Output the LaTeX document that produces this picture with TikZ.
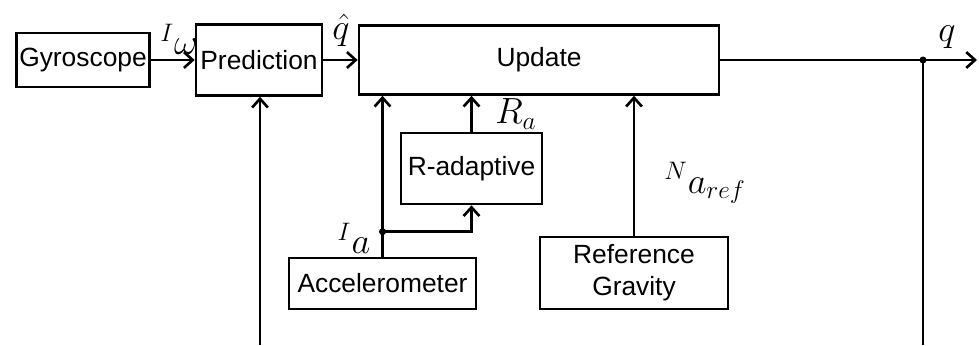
\documentclass[tikz,border=0pt]{standalone}
\usepackage{fontspec}
\setmainfont{Liberation Sans}
\usetikzlibrary{arrows.meta,positioning}
\begin{document}
\begin{tikzpicture}[line width=1.5pt,
  >={Straight Barb[length=5pt,width=9pt]},
  blk/.style={draw, inner sep=0pt, align=center, font=\fontsize{15}{18}\selectfont},
  lbl/.style={inner sep=0pt, font=\fontsize{20}{22}\selectfont}]
  \useasboundingbox (0,0) rectangle (19.58,6.9);
  % blocks
  \node[blk, minimum width=2.66cm, minimum height=1.08cm] (gyro) at (1.66,5.70) {Gyroscope};
  \node[blk, minimum width=2.52cm, minimum height=1.42cm] (pred) at (5.18,5.70) {Prediction};
  \node[blk, minimum width=7.20cm, minimum height=1.38cm] (upd) at (10.78,5.70) {Update};
  \node[blk, minimum width=2.82cm, minimum height=1.42cm] (radp) at (9.43,3.53) {R-adaptive};
  \node[blk, minimum width=3.74cm, minimum height=1.02cm] (acc) at (7.65,1.23) {Accelerometer};
  \node[blk, minimum width=3.76cm, minimum height=1.44cm] (grav) at (12.68,1.44) {Reference\\Gravity};
  % forward path
  \draw[->] (gyro) -- (pred);
  \draw[->] (pred) -- (upd);
  \coordinate (split) at (18.46,5.70);
  \coordinate (out) at (19.54,5.70);
  \draw (upd.east) -- (split);
  \draw[->] (split) -- (out);
  \fill (split) circle (0.07);
  % feedback (cut at the bottom)
  \coordinate (fbR) at (18.46,0);
  \coordinate (fbL) at (5.20,0);
  \draw (split) -- (fbR);
  \draw[->] (fbL) -- (fbL |- pred.south);
  % measurements
  \path (acc.north) ++(0,0.50) coordinate (ia);
  \draw (acc.north) -- (ia);
  \draw[->] (ia) -- (ia |- upd.south);
  \draw[->] (ia) -| (radp.south);
  \fill (ia) circle (0.07);
  \draw[->] (radp.north) -- (radp.north |- upd.south);
  \draw[->] (grav.north) -- (grav.north |- upd.south);
  % labels
  \node[lbl] (lomega) at (3.58,6.12) {${}^{I}\omega$};
  \node[lbl] (lqhat) at (6.82,6.30) {$\hat{q}$};
  \node[lbl] (lq) at (18.94,6.16) {$q$};
  \node[lbl] (lra) at (10.32,4.62) {$R_a$};
  \node[lbl] (laref) at (14.10,3.24) {${}^{N}a_{ref}$};
  \node[lbl] (lia) at (7.08,2.14) {${}^{I}a$};
\end{tikzpicture}
\end{document}
